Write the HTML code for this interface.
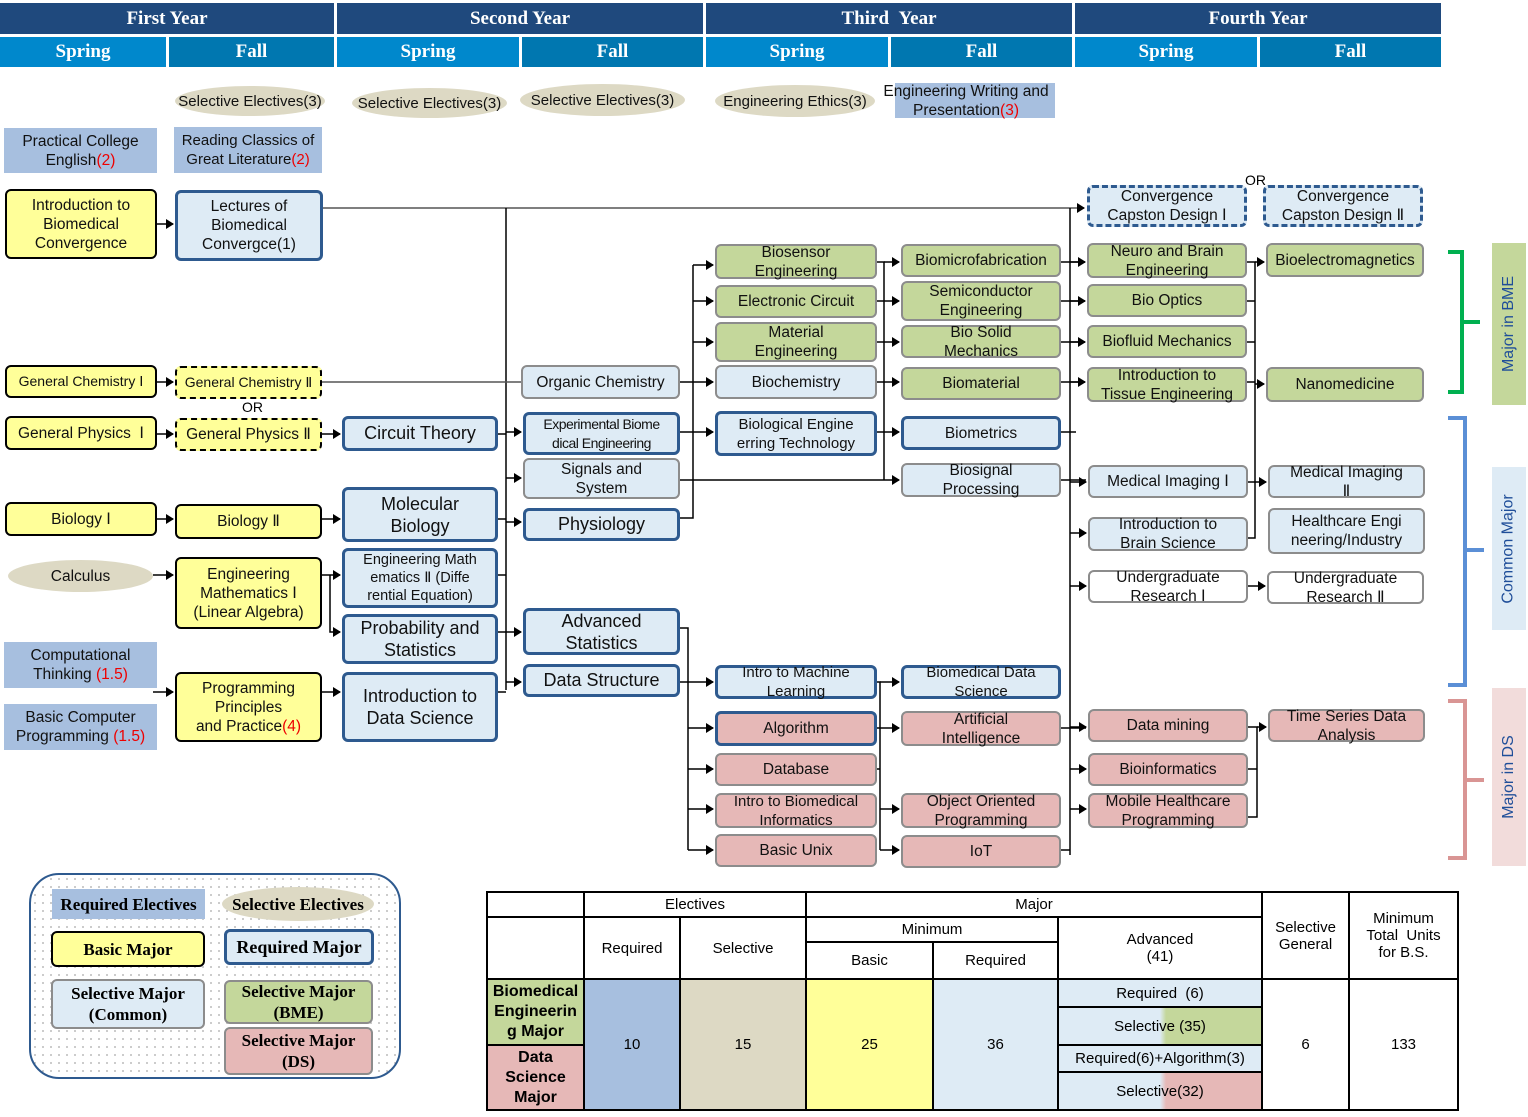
<!DOCTYPE html>
<html><head><meta charset="utf-8"><style>
body{margin:0;width:1528px;height:1117px;background:#fff;position:relative;overflow:hidden;font-family:"Liberation Sans",sans-serif;}
.h{position:absolute;color:#fff;font-family:"Liberation Serif",serif;font-weight:bold;font-size:19px;display:flex;align-items:center;justify-content:center;}
.n{position:absolute;box-sizing:border-box;display:flex;align-items:center;justify-content:center;text-align:center;font-size:15.5px;line-height:19px;color:#111;border-radius:6px;overflow:visible;padding:0 2px;}
.b{background:#ffff99;border:2px solid #000;}
.d{background:#ffff99;border:2px dashed #000;}
.r{background:#deebf5;border:3px solid #2e5a8f;}
.c{background:#deebf5;border:2px solid #8c8c8c;}
.g{background:#c4d79b;border:2px solid #8c8c8c;}
.p{background:#e6b8b7;border:2px solid #8c8c8c;}
.pr{background:#e6b8b7;border:3px solid #2e5a8f;}
.w{background:#fff;border:2px solid #8c8c8c;}
.cd{background:#deebf5;border:3px dashed #2e5a8f;}
.re{background:#a7bfdf;border-radius:0;}
.se{background:#ddd9c4;border-radius:50%;white-space:nowrap;}
.red{color:#e00;}
.vl{position:absolute;display:flex;align-items:center;justify-content:center;}
.vl span{transform:rotate(-90deg);white-space:nowrap;color:#1f4e99;font-size:16px;}
table{position:absolute;left:486px;top:891px;border-collapse:collapse;font-size:15px;}
td{border:2px solid #000;text-align:center;padding:0;}
.lg{position:absolute;box-sizing:border-box;display:flex;align-items:center;justify-content:center;text-align:center;font-family:"Liberation Serif",serif;font-weight:bold;font-size:17px;line-height:21px;border-radius:6px;}
</style></head><body>
<div class="h" style="left:0;top:3px;width:334px;height:31px;background:#1f497d">First Year</div>
<div class="h" style="left:337px;top:3px;width:366px;height:31px;background:#1f497d">Second Year</div>
<div class="h" style="left:706px;top:3px;width:366px;height:31px;background:#1f497d">Third &nbsp;Year</div>
<div class="h" style="left:1075px;top:3px;width:366px;height:31px;background:#1f497d">Fourth Year</div>
<div class="h" style="left:0;top:37px;width:166px;height:30px;background:#0088cc">Spring</div>
<div class="h" style="left:169px;top:37px;width:165px;height:30px;background:#0077b0">Fall</div>
<div class="h" style="left:337px;top:37px;width:182px;height:30px;background:#0088cc">Spring</div>
<div class="h" style="left:522px;top:37px;width:181px;height:30px;background:#0077b0">Fall</div>
<div class="h" style="left:706px;top:37px;width:182px;height:30px;background:#0088cc">Spring</div>
<div class="h" style="left:891px;top:37px;width:181px;height:30px;background:#0077b0">Fall</div>
<div class="h" style="left:1075px;top:37px;width:182px;height:30px;background:#0088cc">Spring</div>
<div class="h" style="left:1260px;top:37px;width:181px;height:30px;background:#0077b0">Fall</div>

<svg style="position:absolute;left:0;top:0" width="1528" height="1117">
<defs><marker id="a" markerWidth="8" markerHeight="10" refX="7" refY="5" orient="auto" markerUnits="userSpaceOnUse"><path d="M0,0L8,5L0,10z" fill="#000"/></marker></defs>
<g stroke="#000" stroke-width="1.5" fill="none">
<path d="M157,224H173" marker-end="url(#a)"/>
<path d="M323,208H1084" stroke="#555" marker-end="url(#a)"/>
<path d="M506,208V690"/>
<path d="M1070,208V855"/>
<path d="M157,382H173" marker-end="url(#a)"/>
<path d="M322,382H521" stroke="#555"/>
<path d="M157,434H173" marker-end="url(#a)"/>
<path d="M322,434H340" marker-end="url(#a)"/>
<path d="M157,519H173" marker-end="url(#a)"/>
<path d="M322,519H340" marker-end="url(#a)"/>
<path d="M153,575H173" marker-end="url(#a)"/>
<path d="M322,575H340" marker-end="url(#a)"/>
<path d="M330,575V632H340" marker-end="url(#a)"/>
<path d="M153,692H173" marker-end="url(#a)"/>
<path d="M322,692H340" marker-end="url(#a)"/>
<path d="M498,434H506M498,519H506M498,575H506M498,632H506M498,692H506"/>
<path d="M506,432H521" marker-end="url(#a)"/>
<path d="M506,478H521" marker-end="url(#a)"/>
<path d="M506,522H521" marker-end="url(#a)"/>
<path d="M506,632H521" marker-end="url(#a)"/>
<path d="M506,682H521" marker-end="url(#a)"/>
<path d="M680,518H693V265"/>
<path d="M693,265H713" marker-end="url(#a)"/>
<path d="M693,301H713" marker-end="url(#a)"/>
<path d="M693,342H713" marker-end="url(#a)"/>
<path d="M680,382H713" marker-end="url(#a)"/>
<path d="M680,432H713" marker-end="url(#a)"/>
<path d="M680,480H899" marker-end="url(#a)"/>
<path d="M877,262H884V480"/>
<path d="M877,301H884M877,342H884M877,382H884M877,432H884"/>
<path d="M884,262H899" marker-end="url(#a)"/>
<path d="M884,301H899" marker-end="url(#a)"/>
<path d="M884,342H899" marker-end="url(#a)"/>
<path d="M884,382H899" marker-end="url(#a)"/>
<path d="M884,432H899" marker-end="url(#a)"/>
<path d="M1061,262H1085M1061,301H1085M1061,342H1085M1061,382H1085M1061,432H1076M1061,480H1086M1061,850H1070" />
<path d="M1070,262H1085" marker-end="url(#a)"/>
<path d="M1070,301H1085" marker-end="url(#a)"/>
<path d="M1070,342H1085" marker-end="url(#a)"/>
<path d="M1070,382H1085" marker-end="url(#a)"/>
<path d="M1070,482H1086" marker-end="url(#a)"/>
<path d="M1070,533H1086" marker-end="url(#a)"/>
<path d="M1070,586H1086" marker-end="url(#a)"/>
<path d="M1070,727H1086" marker-end="url(#a)"/>
<path d="M1070,769H1086" marker-end="url(#a)"/>
<path d="M1070,809H1086" marker-end="url(#a)"/>
<path d="M1247,262H1255V538H1248M1247,301H1255M1247,342H1255M1247,382H1255M1248,482H1255"/>
<path d="M1255,262H1264" marker-end="url(#a)"/>
<path d="M1255,384H1264" marker-end="url(#a)"/>
<path d="M1255,482H1266" marker-end="url(#a)"/>
<path d="M1248,586H1265" marker-end="url(#a)"/>
<path d="M680,628H688V850"/>
<path d="M680,682H713" marker-end="url(#a)"/>
<path d="M688,728H713" marker-end="url(#a)"/>
<path d="M688,769H713" marker-end="url(#a)"/>
<path d="M688,809H713" marker-end="url(#a)"/>
<path d="M688,850H713" marker-end="url(#a)"/>
<path d="M877,682H880V850M877,769H880"/>
<path d="M880,682H899" marker-end="url(#a)"/>
<path d="M877,728H899" marker-end="url(#a)"/>
<path d="M880,809H899" marker-end="url(#a)"/>
<path d="M880,850H899" marker-end="url(#a)"/>
<path d="M1061,728H1086"/>
<path d="M1248,727H1257V817H1248M1248,769H1257"/>
<path d="M1257,727H1266" marker-end="url(#a)"/>
</g>
<g fill="none" stroke-width="4">
<path d="M1448,252H1462V392H1448M1462,322H1480" stroke="#00b050"/>
<path d="M1448,418H1465V685H1448M1465,550H1484" stroke="#5b8fd6"/>
<path d="M1448,701H1465V858H1448M1465,780H1484" stroke="#d99594"/>
</g>
</svg>

<div class="vl" style="left:1492px;top:243px;width:34px;height:162px;background:#c4d79b"><span>Major in BME</span></div>
<div class="vl" style="left:1492px;top:467px;width:34px;height:163px;background:#deebf5"><span>Common Major</span></div>
<div class="vl" style="left:1492px;top:688px;width:34px;height:178px;background:#f2dcdb"><span>Major in DS</span></div>

<div class="n se" style="left:175px;top:86px;width:150px;height:30px;font-size:15px">Selective Electives(3)</div>
<div class="n se" style="left:352px;top:88px;width:155px;height:30px;font-size:15px">Selective Electives(3)</div>
<div class="n se" style="left:520px;top:84px;width:165px;height:32px;font-size:15px">Selective Electives(3)</div>
<div class="n se" style="left:715px;top:85px;width:160px;height:32px;font-size:15px">Engineering Ethics(3)</div>
<div class="n re" style="left:895px;top:83px;width:160px;height:35px;line-height:19px"><span style="margin-left:-18px;white-space:nowrap">Engineering Writing and<br>Presentation<span class="red">(3)</span></span></div>
<div class="n re" style="left:4px;top:128px;width:153px;height:45px"><span>Practical College<br>English<span class="red">(2)</span></span></div>
<div class="n re" style="left:174px;top:127px;width:148px;height:46px;font-size:15px"><span>Reading Classics of<br>Great Literature<span class="red">(2)</span></span></div>

<div class="n b" style="left:5px;top:189px;width:152px;height:70px">Introduction to Biomedical Convergence</div>
<div class="n b" style="left:5px;top:365px;width:152px;height:33px;font-size:14px">General Chemistry Ⅰ</div>
<div class="n b" style="left:5px;top:416px;width:152px;height:34px">General Physics &nbsp;Ⅰ</div>
<div class="n b" style="left:5px;top:502px;width:152px;height:34px">Biology Ⅰ</div>
<div class="n se" style="left:8px;top:560px;width:145px;height:32px">Calculus</div>
<div class="n re" style="left:4px;top:642px;width:153px;height:46px"><span>Computational<br>Thinking <span class="red">(1.5)</span></span></div>
<div class="n re" style="left:4px;top:704px;width:153px;height:46px"><span>Basic Computer<br>Programming <span class="red">(1.5)</span></span></div>

<div class="n r" style="left:175px;top:190px;width:148px;height:71px">Lectures of Biomedical Convergce(1)</div>
<div class="n d" style="left:175px;top:366px;width:147px;height:33px;font-size:14px">General Chemistry Ⅱ</div>
<div style="position:absolute;left:242px;top:399px;font-size:14px">OR</div>
<div class="n d" style="left:175px;top:418px;width:147px;height:33px">General Physics Ⅱ</div>
<div class="n b" style="left:175px;top:504px;width:147px;height:35px">Biology Ⅱ</div>
<div class="n b" style="left:175px;top:557px;width:147px;height:72px">Engineering Mathematics Ⅰ (Linear Algebra)</div>
<div class="n b" style="left:175px;top:672px;width:147px;height:70px"><span>Programming<br>Principles<br>and Practice<span class="red">(4)</span></span></div>

<div class="n r" style="left:342px;top:416px;width:156px;height:35px;font-size:18px">Circuit Theory</div>
<div class="n r" style="left:342px;top:487px;width:156px;height:55px;font-size:18px;line-height:22px"><span>Molecular<br>Biology</span></div>
<div class="n r" style="left:342px;top:548px;width:156px;height:60px;font-size:14.5px;line-height:18px"><span>Engineering Math<br>ematics Ⅱ (Diffe<br>rential Equation)</span></div>
<div class="n r" style="left:342px;top:614px;width:156px;height:50px;font-size:18px;line-height:22px">Probability and Statistics</div>
<div class="n r" style="left:342px;top:672px;width:156px;height:70px;font-size:18px;line-height:22px">Introduction to Data Science</div>

<div class="n c" style="left:521px;top:365px;width:159px;height:34px">Organic Chemistry</div>
<div class="n r" style="left:523px;top:412px;width:157px;height:43px;font-size:14px;letter-spacing:-0.5px"><span>Experimental Biome<br>dical Engineering</span></div>
<div class="n c" style="left:523px;top:458px;width:157px;height:41px"><span>Signals and<br>System</span></div>
<div class="n r" style="left:523px;top:508px;width:157px;height:33px;font-size:18px">Physiology</div>
<div class="n r" style="left:523px;top:608px;width:157px;height:47px;font-size:18px;line-height:22px"><span>Advanced<br>Statistics</span></div>
<div class="n r" style="left:523px;top:664px;width:157px;height:33px;font-size:18px">Data Structure</div>

<div class="n g" style="left:715px;top:244px;width:162px;height:35px"><span>Biosensor<br>Engineering</span></div>
<div class="n g" style="left:715px;top:285px;width:162px;height:33px">Electronic Circuit</div>
<div class="n g" style="left:715px;top:322px;width:162px;height:40px"><span>Material<br>Engineering</span></div>
<div class="n c" style="left:715px;top:365px;width:162px;height:34px">Biochemistry</div>
<div class="n r" style="left:715px;top:411px;width:162px;height:45px;font-size:15px"><span>Biological Engine<br>erring Technology</span></div>
<div class="n r" style="left:715px;top:665px;width:162px;height:34px;font-size:15px"><span>Intro to Machine<br>Learning</span></div>
<div class="n pr" style="left:715px;top:711px;width:162px;height:35px">Algorithm</div>
<div class="n p" style="left:715px;top:753px;width:162px;height:33px">Database</div>
<div class="n p" style="left:715px;top:793px;width:162px;height:35px;font-size:15px"><span>Intro to Biomedical<br>Informatics</span></div>
<div class="n p" style="left:715px;top:834px;width:162px;height:33px">Basic Unix</div>

<div class="n g" style="left:901px;top:244px;width:160px;height:33px">Biomicrofabrication</div>
<div class="n g" style="left:901px;top:281px;width:160px;height:40px"><span>Semiconductor<br>Engineering</span></div>
<div class="n g" style="left:901px;top:325px;width:160px;height:33px"><span>Bio Solid<br>Mechanics</span></div>
<div class="n g" style="left:901px;top:367px;width:160px;height:33px">Biomaterial</div>
<div class="n r" style="left:901px;top:416px;width:160px;height:34px">Biometrics</div>
<div class="n c" style="left:901px;top:463px;width:160px;height:34px"><span>Biosignal<br>Processing</span></div>
<div class="n r" style="left:901px;top:665px;width:160px;height:34px;font-size:15px"><span>Biomedical Data<br>Science</span></div>
<div class="n p" style="left:901px;top:711px;width:160px;height:35px"><span>Artificial<br>Intelligence</span></div>
<div class="n p" style="left:901px;top:793px;width:160px;height:35px"><span>Object Oriented<br>Programming</span></div>
<div class="n p" style="left:901px;top:835px;width:160px;height:33px">IoT</div>

<div class="n cd" style="left:1087px;top:185px;width:160px;height:42px">Convergence Capston Design Ⅰ</div>
<div style="position:absolute;left:1245px;top:172px;font-size:14px">OR</div>
<div class="n g" style="left:1087px;top:243px;width:160px;height:35px"><span>Neuro and Brain<br>Engineering</span></div>
<div class="n g" style="left:1087px;top:284px;width:160px;height:33px">Bio Optics</div>
<div class="n g" style="left:1087px;top:325px;width:160px;height:33px">Biofluid Mechanics</div>
<div class="n g" style="left:1087px;top:367px;width:160px;height:35px"><span>Introduction to<br>Tissue Engineering</span></div>
<div class="n c" style="left:1088px;top:465px;width:160px;height:33px">Medical Imaging Ⅰ</div>
<div class="n c" style="left:1088px;top:517px;width:160px;height:34px"><span>Introduction to<br>Brain Science</span></div>
<div class="n w" style="left:1088px;top:570px;width:160px;height:33px"><span>Undergraduate<br>Research Ⅰ</span></div>
<div class="n p" style="left:1088px;top:709px;width:160px;height:33px">Data mining</div>
<div class="n p" style="left:1088px;top:753px;width:160px;height:33px">Bioinformatics</div>
<div class="n p" style="left:1088px;top:793px;width:160px;height:35px"><span>Mobile Healthcare<br>Programming</span></div>

<div class="n cd" style="left:1263px;top:185px;width:160px;height:42px">Convergence Capston Design Ⅱ</div>
<div class="n g" style="left:1266px;top:243px;width:158px;height:34px">Bioelectromagnetics</div>
<div class="n g" style="left:1266px;top:367px;width:158px;height:35px">Nanomedicine</div>
<div class="n c" style="left:1268px;top:465px;width:157px;height:33px"><span>Medical Imaging<br>Ⅱ</span></div>
<div class="n c" style="left:1268px;top:508px;width:157px;height:46px"><span>Healthcare Engi<br>neering/Industry</span></div>
<div class="n w" style="left:1267px;top:571px;width:157px;height:33px"><span>Undergraduate<br>Research Ⅱ</span></div>
<div class="n p" style="left:1268px;top:709px;width:157px;height:33px"><span>Time Series Data<br>Analysis</span></div>

<div style="position:absolute;left:29px;top:873px;width:372px;height:206px;box-sizing:border-box;border:2px solid #2e5a8f;border-radius:30px;background-color:#fff;background-image:radial-gradient(#bbb 0.8px,transparent 1px);background-size:8px 8px"></div>
<div class="lg" style="left:52px;top:889px;width:153px;height:30px;background:#a7bfdf;border-radius:0">Required Electives</div>
<div class="lg" style="left:222px;top:887px;width:152px;height:34px;background:#ddd9c4;border-radius:50%">Selective Electives</div>
<div class="lg b" style="left:51px;top:931px;width:154px;height:36px">Basic Major</div>
<div class="lg r" style="left:224px;top:929px;width:150px;height:36px;font-size:18px">Required Major</div>
<div class="lg c" style="left:51px;top:979px;width:154px;height:50px">Selective Major<br>(Common)</div>
<div class="lg g" style="left:224px;top:980px;width:149px;height:44px">Selective Major<br>(BME)</div>
<div class="lg p" style="left:224px;top:1027px;width:149px;height:48px">Selective Major<br>(DS)</div>

<table>
<tr style="height:25px"><td style="width:95px"></td><td colspan="2">Electives</td><td colspan="3">Major</td><td rowspan="3" style="width:85px">Selective<br>General</td><td rowspan="3" style="width:107px">Minimum<br>Total &nbsp;Units<br>for B.S.</td></tr>
<tr style="height:25px"><td rowspan="2" style="border-top:none"></td><td rowspan="2" style="width:94px">Required</td><td rowspan="2" style="width:124px">Selective</td><td colspan="2">Minimum</td><td rowspan="2" style="width:202px">Advanced<br>(41)</td></tr>
<tr style="height:37px"><td style="width:125px">Basic</td><td style="width:123px">Required</td></tr>
<tr style="height:28px"><td rowspan="2" style="background:#c4d79b;font-weight:bold;font-size:16px;line-height:20px">Biomedical Engineerin g Major</td><td rowspan="4" style="background:#a7bfdf">10</td><td rowspan="4" style="background:#ddd9c4">15</td><td rowspan="4" style="background:#ffff99">25</td><td rowspan="4" style="background:#deebf5">36</td><td style="background:#deebf5">Required &nbsp;(6)</td><td rowspan="4">6</td><td rowspan="4">133</td></tr>
<tr style="height:38px"><td style="background:linear-gradient(90deg,#deebf5 50%,#c4d79b 53%)">Selective (35)</td></tr>
<tr style="height:27px"><td rowspan="2" style="background:#e6b8b7;font-weight:bold;font-size:16px;line-height:20px">Data<br>Science<br>Major</td><td style="background:#deebf5">Required(6)+Algorithm(3)</td></tr>
<tr style="height:38px"><td style="background:linear-gradient(90deg,#deebf5 50%,#e6b8b7 53%)">Selective(32)</td></tr>
</table>
</body></html>
